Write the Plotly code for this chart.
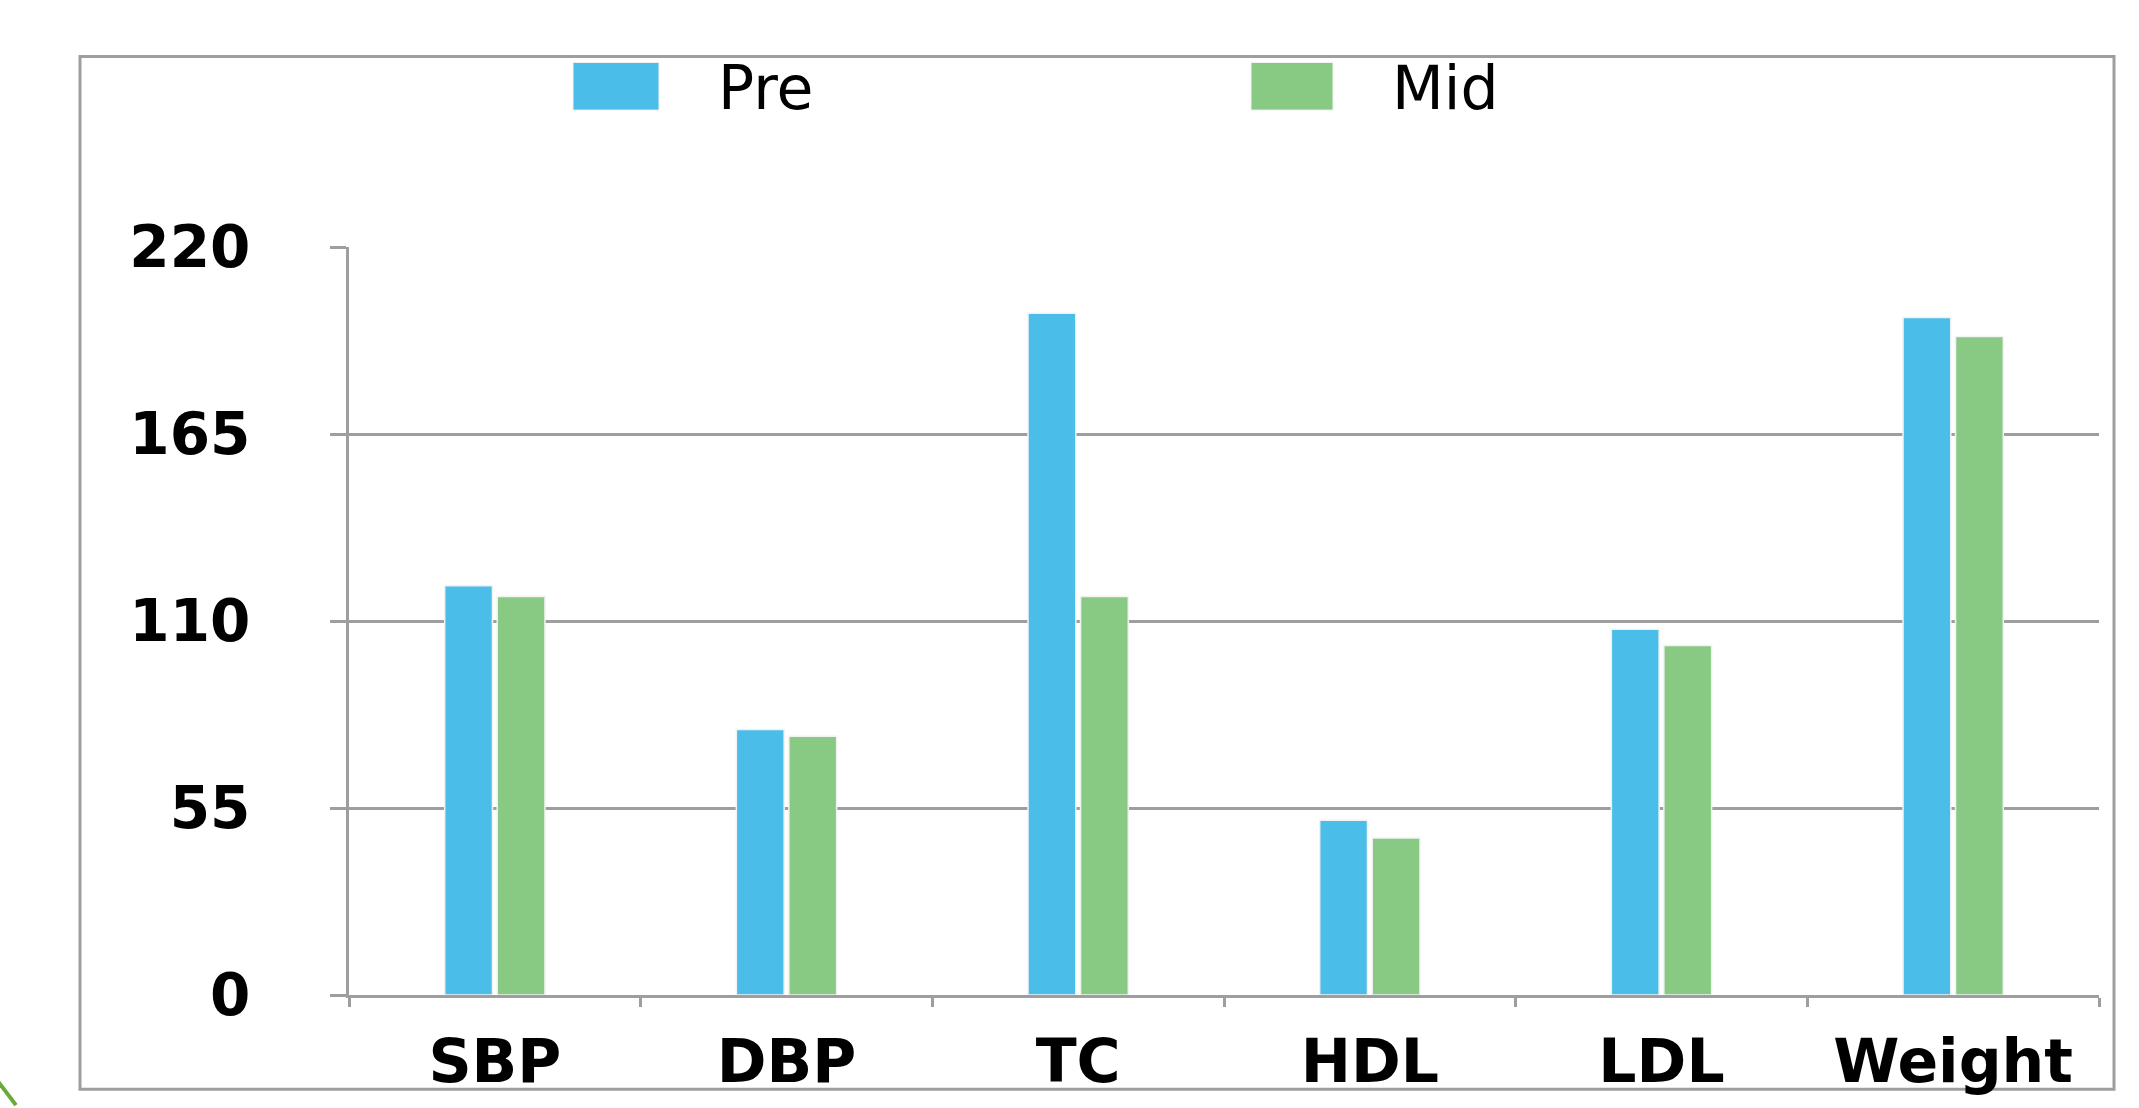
import plotly.graph_objects as go

categories = ["SBP", "DBP", "TC", "HDL", "LDL", "Weight"]
pre_values = [120.4, 78.1, 200.5, 51.4, 107.6, 199.3]
mid_values = [117.2, 76.1, 117.2, 46.2, 102.8, 193.7]
series_names = ["Pre", "Mid"]
y_ticks = [0, 55, 110, 165, 220]

PRE_COLOR = "#4ABDE8"
MID_COLOR = "#88CA84"
GRAY = "#9E9E9E"

W, H = 2139, 1108
ML, MR, MT, MB = 349, 40, 247, 107
PW, PH = W - ML - MR, H - MT - MB

def px(x):
    return (x - ML) / PW

def py(y):
    return (H - MB - y) / PH

fig = go.Figure()
for name, vals, col in [(series_names[0], pre_values, PRE_COLOR),
                        (series_names[1], mid_values, MID_COLOR)]:
    fig.add_trace(go.Bar(
        x=categories, y=vals, name=name,
        marker=dict(color=col, line=dict(color="#F2F2F2", width=1.5)),
        showlegend=False,
    ))

shapes = [
    # outer frame
    dict(type="rect", xref="paper", yref="paper",
         x0=px(80), x1=px(2114), y0=py(1096), y1=py(55),
         line=dict(color=GRAY, width=3), layer="below"),
    # legend swatches
    dict(type="rect", xref="paper", yref="paper",
         x0=px(573), x1=px(659), y0=py(109), y1=py(61),
         fillcolor=PRE_COLOR, line=dict(color="#F2F2F2", width=1)),
    dict(type="rect", xref="paper", yref="paper",
         x0=px(1251), x1=px(1333), y0=py(109), y1=py(61),
         fillcolor=MID_COLOR, line=dict(color="#F2F2F2", width=1)),
    # decorative green corner line
    dict(type="line", xref="paper", yref="paper",
         x0=px(-2), x1=px(16), y0=py(1088), y1=py(1112),
         line=dict(color="#6AAA3A", width=4)),
]

annotations = [
    dict(xref="paper", yref="paper", x=px(716), y=py(87), text=series_names[0],
         showarrow=False, xanchor="left", yanchor="middle",
         font=dict(family="DejaVu Sans", size=60, color="black")),
    dict(xref="paper", yref="paper", x=px(1390), y=py(87), text=series_names[1],
         showarrow=False, xanchor="left", yanchor="middle",
         font=dict(family="DejaVu Sans", size=60, color="black")),
]

fig.update_layout(
    width=W, height=H,
    margin=dict(l=ML, r=MR, t=MT, b=MB),
    paper_bgcolor="white", plot_bgcolor="white",
    barmode="group", bargap=0.64, bargroupgap=0.09,
    shapes=shapes, annotations=annotations,
)

fig.update_xaxes(
    showline=True, linecolor=GRAY, linewidth=3,
    ticks="outside", tickson="boundaries", ticklen=9, tickwidth=3, tickcolor=GRAY,
    showgrid=False,
    tickfont=dict(family="DejaVu Sans", size=60, color="black", weight="bold"),
    ticklabelstandoff=12,
)
fig.update_yaxes(
    range=[0, 220], tickvals=y_ticks, ticktext=[str(v) for v in y_ticks],
    showline=True, linecolor=GRAY, linewidth=3,
    ticks="outside", ticklen=16, tickwidth=3, tickcolor=GRAY,
    showgrid=True, gridcolor=GRAY, gridwidth=3, zeroline=False,
    tickfont=dict(family="DejaVu Sans", size=58, color="black", weight="bold"),
    ticklabelstandoff=68,
)

fig.write_html("out.html")
